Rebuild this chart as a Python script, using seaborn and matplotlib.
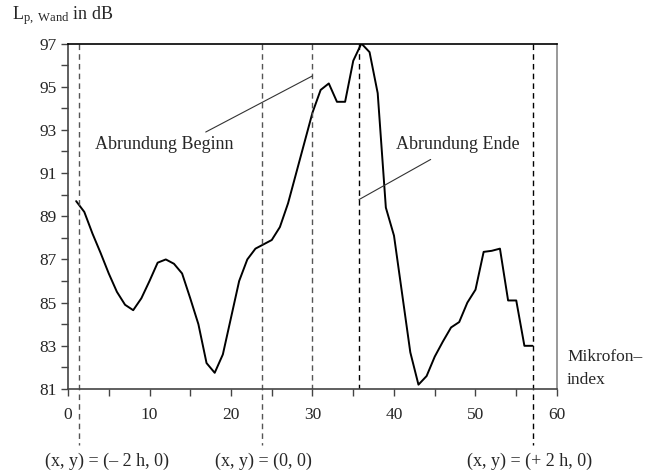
import matplotlib
matplotlib.use("Agg")
import matplotlib.pyplot as plt
import seaborn as sns
import numpy as np
import pandas as pd

# ---- data ----
mic_index = list(range(1, 58))
level_db = [89.7, 89.2, 88.2, 87.3, 86.35, 85.5, 84.9, 84.65, 85.2, 86.0,
            86.85, 87.0, 86.8, 86.35, 85.2, 84.0, 82.2, 81.75, 82.6, 84.3,
            86.0, 87.0, 87.5, 87.7, 87.9, 88.5, 89.6, 91.0, 92.4, 93.8,
            94.85, 95.15, 94.3, 94.3, 96.2, 97.0, 96.6, 94.7, 89.4, 88.1,
            85.4, 82.7, 81.2, 81.6, 82.5, 83.2, 83.85, 84.1, 85.0, 85.6,
            87.35, 87.4, 87.5, 85.1, 85.1, 83.0, 83.0]

x_ticks = [0, 10, 20, 30, 40, 50, 60]
y_ticks = [81, 83, 85, 87, 89, 91, 93, 95, 97]

marker_lines_long = [1.3, 23.8, 57.0]     # extend below axis
marker_lines_short = [30.0, 35.7]
position_labels = ["(x, y) = (– 2 h, 0)", "(x, y) = (0, 0)", "(x, y) = (+ 2 h, 0)"]
position_label_x = [4.8, 24.0, 56.6]

annot_texts = ["Abrundung Beginn", "Abrundung Ende"]
annot_text_xy = [(3.3, 92.3), (40.2, 92.3)]
annot_line_from = [(16.9, 92.9), (35.7, 89.77)]
annot_line_to = [(30.0, 95.5), (44.5, 91.63)]

# ---- style ----
sns.set_style("ticks")
plt.rcParams['font.family'] = ['Liberation Serif', 'DejaVu Serif']
plt.rcParams['mathtext.fontset'] = 'custom'
plt.rcParams['mathtext.rm'] = 'Liberation Serif'
plt.rcParams['mathtext.it'] = 'Liberation Serif'

fig = plt.figure(figsize=(6.45, 4.71), dpi=100)
ax = fig.add_axes([68/645, 1 - 389/471, (557 - 68)/645, (389 - 43.5)/471])

df = pd.DataFrame({"index": mic_index, "level": level_db})
sns.lineplot(data=df, x="index", y="level", ax=ax, color="black", linewidth=1.4)

ax.set_xlim(0, 60)
ax.set_ylim(81, 97)
ax.set_xticks(x_ticks)
ax.set_xticks(np.arange(0, 61, 5), minor=True)
ax.set_yticks(y_ticks)
ax.set_yticks(np.arange(81, 98, 1), minor=True)
ax.tick_params(axis='both', which='both', direction='out', length=5, width=1,
               color='#444444', labelsize=12.5)
ax.tick_params(axis='x', which='major', pad=8)
ax.tick_params(axis='y', which='major', pad=3)
ax.set_xlabel("")
ax.set_ylabel("")

for s in ['left', 'bottom']:
    ax.spines[s].set_color('#444444')
    ax.spines[s].set_linewidth(1.2)
ax.spines['right'].set_color('#888888')
ax.spines['right'].set_linewidth(1.2)
ax.spines['top'].set_color('black')
ax.spines['top'].set_linewidth(1.2)
ax.spines['right'].set_visible(True)
ax.spines['top'].set_visible(True)

# vertical dashed markers
for xv in marker_lines_long:
    col = '#555555' if xv < 50 else 'black'
    ax.plot([xv, xv], [97, 78.4], ls=(0, (4, 3)), color=col, lw=1.0, clip_on=False)
ax.plot([marker_lines_short[0]] * 2, [97, 81], ls=(0, (4, 3)), color='#555555', lw=1.0)
ax.plot([marker_lines_short[1]] * 2, [97, 81], ls=(0, (4, 3)), color='black', lw=1.0)

# annotation texts and leader lines
for t, (tx, ty), p0, p1 in zip(annot_texts, annot_text_xy, annot_line_from, annot_line_to):
    ax.text(tx, ty, t, fontsize=13, va='center', ha='left')
    ax.plot([p0[0], p1[0]], [p0[1], p1[1]], color='#333333', lw=0.8)

# position labels under the axis
for lbl, lx in zip(position_labels, position_label_x):
    ax.text(lx, 77.65, lbl, fontsize=13, ha='center', va='center', clip_on=False)

# axis labels
fig.text(12/645, 1 - 16/471, r"$\mathregular{L_{p,\ Wand}}$ in dB", fontsize=13,
         ha='left', va='center')
fig.text(567/645, 1 - 357/471, "Mikrofon–", fontsize=12.5, ha='left', va='center')
fig.text(567/645, 1 - 380/471, "index", fontsize=12.5, ha='left', va='center')

fig.savefig("out.png", dpi=100)
